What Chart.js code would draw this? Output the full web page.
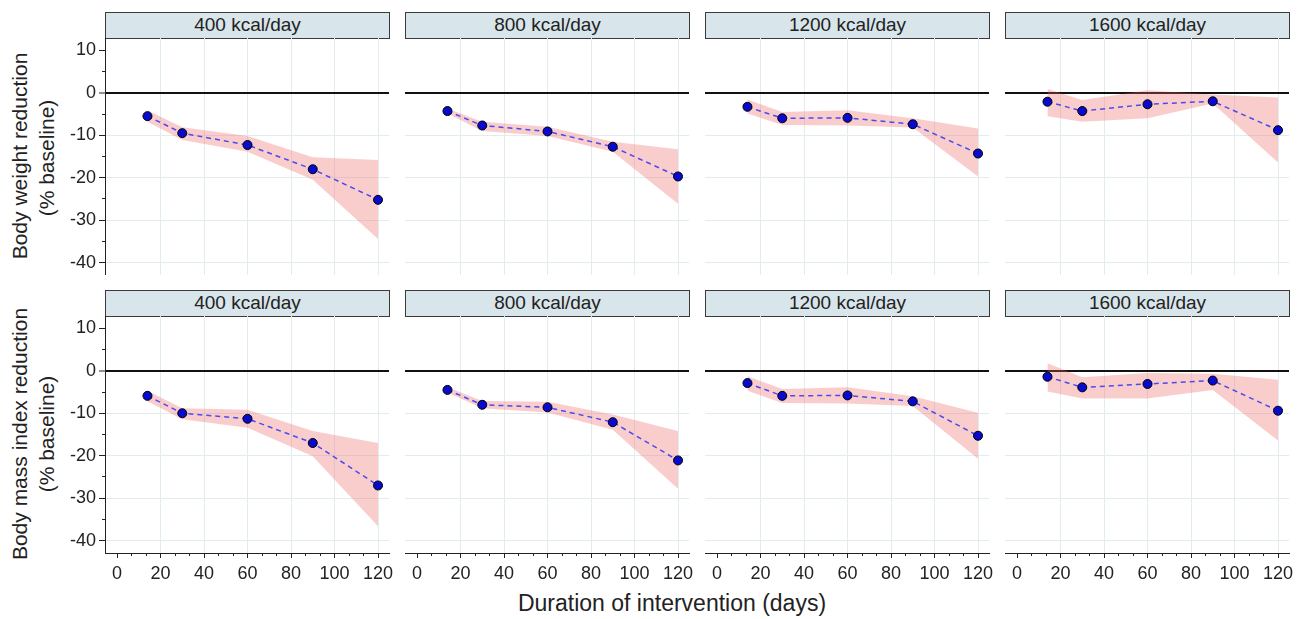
<!DOCTYPE html>
<html>
<head>
<meta charset="utf-8">
<script src="https://cdn.jsdelivr.net/npm/chart.js@4.4.0/dist/chart.umd.min.js"></script>
<style>
  body { margin: 0; background: #fff; font-family: "Liberation Sans", Arial, sans-serif; color: #222; }
  #wrap { position: relative; width: 1309px; height: 619px; overflow: hidden; }
  .strip { position: absolute; box-sizing: border-box; width: 285px; height: 27px; background: #d8e5ea;
           border: 1.5px solid #3a3a3a; font-size: 19px; text-align: center; line-height: 24px; }
  .pane { position: absolute; }
  .pane canvas { display: block; }
  .ytitle { position: absolute; white-space: nowrap; font-size: 21px; transform: translate(-50%, -50%) rotate(-90deg); }
  #xtitle { position: absolute; left: 672px; top: 590px; transform: translateX(-50%); font-size: 23px; white-space: nowrap; }
</style>
</head>
<body>
<div id="wrap">
  <div class="ytitle" style="left:20px;top:156px">Body weight reduction</div>
  <div class="ytitle" style="left:47px;top:158px">(% baseline)</div>
  <div class="ytitle" style="left:20px;top:434px">Body mass index reduction</div>
  <div class="ytitle" style="left:47px;top:434px">(% baseline)</div>
  <div id="xtitle">Duration of intervention (days)</div>
</div>
<script>
// data
var days = [14, 30, 60, 90, 120];
var doses = ['400 kcal/day', '800 kcal/day', '1200 kcal/day', '1600 kcal/day'];
var xTicks = [0, 20, 40, 60, 80, 100, 120];
var xMinor = [6.67, 13.33, 26.67, 33.33, 46.67, 53.33, 66.67, 73.33, 86.67, 93.33, 106.67, 113.33];
var yTicks = [-40, -30, -20, -10, 0, 10];
var yMinor = [-35, -25, -15, -5, 5];

// body weight, one list per dose
var bwMean  = [[-5.5, -9.5, -12.3, -18.0, -25.2],
               [-4.3, -7.7, -9.1, -12.7, -19.7],
               [-3.3, -6.0, -5.9, -7.4, -14.3],
               [-2.1, -4.3, -2.7, -2.0, -8.8]];
var bwLower = [[-6.8, -11.1, -13.9, -20.5, -34.4],
               [-4.9, -9.0, -10.2, -13.9, -26.1],
               [-4.9, -7.6, -7.7, -8.2, -19.7],
               [-5.5, -6.8, -6.0, -2.5, -16.4]];
var bwUpper = [[-4.1, -8.1, -10.2, -15.2, -15.8],
               [-3.7, -6.8, -8.0, -11.5, -13.3],
               [-1.6, -4.5, -4.1, -6.0, -8.4],
               [0.9, -1.7, 0.6, -0.4, -1.1]];

// body mass index
var bmiMean  = [[-5.9, -10.0, -11.3, -17.0, -27.0],
                [-4.5, -8.0, -8.6, -12.1, -21.1],
                [-2.9, -5.9, -5.8, -7.2, -15.3],
                [-1.4, -3.9, -3.1, -2.3, -9.4]];
var bmiLower = [[-7.2, -11.4, -13.4, -20.1, -36.6],
                [-5.1, -8.8, -9.8, -13.9, -27.8],
                [-4.7, -7.6, -7.7, -8.3, -20.7],
                [-4.9, -6.5, -6.5, -4.5, -16.4]];
var bmiUpper = [[-4.7, -8.8, -9.2, -14.2, -17.0],
                [-3.8, -7.1, -7.3, -10.3, -14.2],
                [-1.3, -4.3, -3.9, -6.0, -9.9],
                [1.8, -1.5, -0.5, -0.7, -2.1]];

var xMin = -5.52, xMax = 125.05;
var yMin = -42.9, yMax = 12.9;
var gridCol = '#e2ecef';
var bandCol = 'rgba(240,100,100,0.32)';
var padTop = 10, padRight = 20;

Chart.defaults.font.family = '"Liberation Sans", Arial, sans-serif';
Chart.defaults.color = '#222';

function pts(vals) {
  return days.map(function (d, i) { return { x: d, y: vals[i] }; });
}
function setTicks(list) {
  return function (s) { s.ticks = list.map(function (v) { return { value: v }; }); };
}
function fixSize(w, h) {
  return function (s) {
    if (w !== null) s.width = w;
    if (h !== null) s.height = h;
    s.paddingLeft = 0; s.paddingRight = 0; s.paddingTop = 0; s.paddingBottom = 0;
  };
}

var wrap = document.getElementById('wrap');

function makePanel(row, col) {
  var mean = row == 0 ? bwMean[col] : bmiMean[col];
  var lo = row == 0 ? bwLower[col] : bmiLower[col];
  var hi = row == 0 ? bwUpper[col] : bmiUpper[col];
  var plotLeft = 105 + 300 * col;
  var plotTop = row == 0 ? 38 : 316;
  var yw = col == 0 ? 50 : 0;
  var xh = row == 1 ? 32 : 0;

  var strip = document.createElement('div');
  strip.className = 'strip';
  strip.style.left = plotLeft + 'px';
  strip.style.top = (plotTop - 26) + 'px';
  strip.textContent = doses[col];
  wrap.appendChild(strip);

  var pane = document.createElement('div');
  pane.className = 'pane';
  pane.style.left = (plotLeft - yw) + 'px';
  pane.style.top = (plotTop - padTop) + 'px';
  var cv = document.createElement('canvas');
  cv.width = yw + 284 + padRight;
  cv.height = padTop + 237 + xh;
  cv.style.width = cv.width + 'px';
  cv.style.height = cv.height + 'px';
  pane.appendChild(cv);
  wrap.appendChild(pane);

  new Chart(cv, {
    type: 'line',
    data: {
      datasets: [{
        data: pts(mean),
        borderColor: '#4a4af0',
        borderWidth: 1.5,
        borderDash: [5, 4],
        pointRadius: 4.5,
        pointBackgroundColor: '#0a0acc',
        pointBorderColor: '#000',
        pointBorderWidth: 1,
        fill: false
      }, {
        data: pts(lo),
        borderWidth: 0,
        pointRadius: 0,
        fill: false
      }, {
        data: pts(hi),
        borderWidth: 0,
        pointRadius: 0,
        backgroundColor: bandCol,
        fill: '-1'
      }]
    },
    options: {
      responsive: false,
      maintainAspectRatio: false,
      animation: false,
      layout: { autoPadding: false, padding: { top: padTop, right: padRight, left: 0, bottom: 0 } },
      plugins: { legend: { display: false }, tooltip: { enabled: false } },
      scales: {
        x: {
          type: 'linear', position: 'bottom', weight: 1, min: xMin, max: xMax,
          afterBuildTicks: setTicks(xTicks),
          afterFit: fixSize(null, xh),
          grid: {
            color: function (c) { return c.tick && c.tick.value === 0 ? 'rgba(0,0,0,0)' : gridCol; },
            drawTicks: row == 1, tickLength: 5, tickColor: '#222', tickWidth: 1
          },
          border: { display: row == 1, color: '#222', width: 1 },
          ticks: { display: row == 1, padding: 5, autoSkip: false, maxRotation: 0, font: { size: 18 }, color: '#222' }
        },
        xm: {
          type: 'linear', position: 'bottom', weight: 0, min: xMin, max: xMax, display: row == 1,
          afterBuildTicks: setTicks(xMinor),
          afterFit: fixSize(null, 0),
          grid: { drawOnChartArea: false, tickLength: 3, tickColor: '#222', tickWidth: 1 },
          border: { display: false },
          ticks: { display: false }
        },
        y: {
          type: 'linear', position: 'left', weight: 1, min: yMin, max: yMax,
          afterBuildTicks: setTicks(yTicks),
          afterFit: fixSize(yw, null),
          grid: {
            color: function (c) {
              if (!c.tick) return gridCol;
              if (c.tick.value === 0) return '#111';
              if (c.tick.value === 10) return 'rgba(0,0,0,0)';
              return gridCol;
            },
            lineWidth: function (c) { return c.tick && c.tick.value === 0 ? 2 : 1; },
            drawTicks: col == 0, tickLength: 6, tickColor: '#222', tickWidth: 1
          },
          border: { display: col == 0, color: '#222', width: 1 },
          ticks: { display: col == 0, padding: 3, autoSkip: false, font: { size: 18 }, color: '#222' }
        },
        ym: {
          type: 'linear', position: 'left', weight: 0, min: yMin, max: yMax, display: col == 0,
          afterBuildTicks: setTicks(yMinor),
          afterFit: fixSize(0, null),
          grid: { drawOnChartArea: false, tickLength: 3, tickColor: '#222', tickWidth: 1 },
          border: { display: false },
          ticks: { display: false }
        }
      }
    }
  });
}

for (var r = 0; r < 2; r++) {
  for (var c = 0; c < 4; c++) {
    makePanel(r, c);
  }
}
</script>
</body>
</html>
